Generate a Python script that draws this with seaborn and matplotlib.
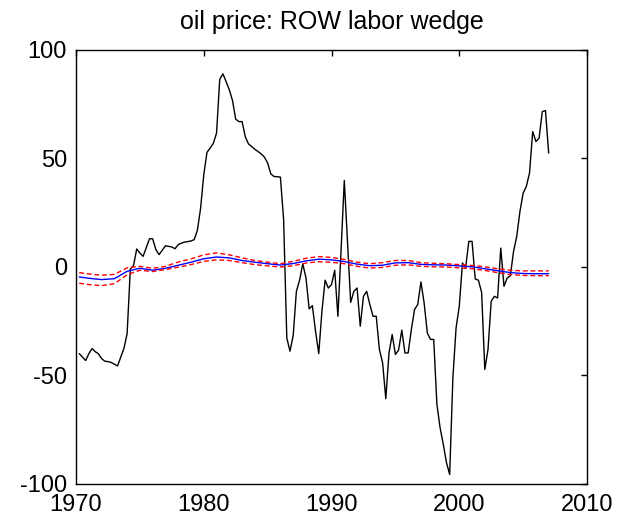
import numpy as np
import pandas as pd
import matplotlib
matplotlib.use("Agg")
import matplotlib.pyplot as plt
import seaborn as sns

# quarterly wedge series, 1970Q1 .. 2006Q4 (plotted at year + q/4)
quarters = np.arange(1, 149)
wedge = [
    -39.9, -41.5, -43.1, -40.0, -37.6, -39.0, -40.0, -42.2, -43.4, -43.6,
    -44.0, -44.8, -45.6, -41.5, -37.5, -30.7, -1.0, 0.6, 8.3, 6.4,
    4.9, 9.0, 13.0, 13.0, 8.0, 5.7, 7.7, 9.8, 9.5, 9.2,
    8.4, 10.3, 11.0, 11.5, 11.7, 12.0, 12.6, 16.9, 27.0, 42.5,
    52.8, 54.8, 57.0, 61.7, 86.5, 89.0, 85.4, 81.6, 76.7, 68.1,
    67.0, 67.0, 60.0, 56.7, 55.5, 54.2, 53.2, 52.1, 50.6, 47.9,
    42.9, 41.7, 41.6, 41.4, 21.8, -32.7, -38.8, -31.6, -11.2, -6.1,
    1.5, -5.0, -19.3, -17.8, -29.6, -39.9, -20.4, -6.1, -9.7, -8.1,
    -1.5, -22.7, 8.0, 39.9, 11.8, -16.3, -11.2, -9.7, -27.3, -13.5,
    -11.2, -17.3, -22.7, -22.7, -38.0, -44.2, -60.7, -39.6, -31.1, -40.3,
    -38.3, -29.1, -39.6, -39.6, -28.8, -19.6, -17.3, -6.9, -16.6, -30.4,
    -33.4, -33.4, -63.3, -74.1, -81.7, -90.2, -95.6, -51.1, -28.1, -18.1,
    1.8, -0.2, 11.8, 11.8, -5.5, -6.1, -11.7, -47.2, -38.0, -15.8,
    -13.5, -14.3, 8.7, -8.9, -5.1, -4.0, 7.2, 14.1, 25.6, 34.0,
    37.1, 43.3, 62.4, 57.8, 59.4, 71.6, 72.1, 52.5,
]
dates = 1970 + quarters / 4

# model median and bands, read roughly once a year
band_years = [1970.25] + list(range(1971, 2008))
median = [
    -4.6, -5.2, -5.8, -5.4, -2.0, -0.6, -1.5, -0.6, 0.8, 2.2,
    3.8, 4.6, 4.2, 3.0, 2.2, 1.5, 0.9, 1.6, 2.8, 3.6,
    3.3, 2.5, 1.3, 0.6, 0.8, 1.9, 2.0, 1.2, 1.0, 0.9,
    0.5, 0.1, -0.8, -1.7, -2.6, -3.0, -3.1, -3.1,
]
upper = [
    -2.6, -3.2, -3.8, -3.4, -0.4, 0.3, -0.6, 0.3, 2.3, 3.7,
    5.6, 6.5, 5.6, 4.2, 3.0, 2.2, 1.5, 2.6, 4.0, 4.8,
    4.4, 3.5, 2.2, 1.5, 2.0, 3.0, 3.0, 2.0, 1.7, 1.5,
    1.1, 0.7, 0.1, -0.8, -1.5, -1.8, -1.8, -1.8,
]
lower = [
    -7.5, -8.1, -8.6, -7.7, -3.6, -1.5, -2.1, -1.2, -0.1, 1.1,
    2.6, 3.3, 3.0, 2.0, 1.1, 0.5, 0.0, 0.6, 1.8, 2.4,
    2.2, 1.5, 0.3, -0.5, -0.2, 0.8, 1.0, 0.3, 0.1, 0.0,
    -0.4, -0.8, -1.6, -2.6, -3.5, -3.9, -4.0, -4.0,
]

x_ticks = [1970, 1980, 1990, 2000, 2010]
y_ticks = [-100, -50, 0, 50, 100]

sns.set_style("white")
plt.rcParams['font.family'] = ['Liberation Sans', 'DejaVu Sans']
plt.rcParams['axes.unicode_minus'] = False

fig = plt.figure(figsize=(6.32, 5.25), dpi=100)
ax = fig.add_axes([0.1203, 0.0781, 0.8085, 0.8267])

data = pd.DataFrame({'date': dates, 'wedge': wedge})
bands = pd.DataFrame({'year': band_years, 'median': median,
                      'upper': upper, 'lower': lower})

sns.lineplot(data=data, x='date', y='wedge', ax=ax, color='black',
             linewidth=1.0, estimator=None)
sns.lineplot(data=bands, x='year', y='median', ax=ax, color='#0000ff',
             linewidth=1.0, estimator=None)
for col in ['upper', 'lower']:
    sns.lineplot(data=bands, x='year', y=col, ax=ax, color='#ff0000',
                 linewidth=1.0, estimator=None, dashes=False)
    ax.lines[-1].set_dashes((3.5, 2))

ax.set_xlim(1970, 2010)
ax.set_ylim(-100, 100)
ax.set_xticks(x_ticks)
ax.set_yticks(y_ticks)
ax.set_xlabel('')
ax.set_ylabel('')
ax.set_title('oil price: ROW labor wedge', fontsize=18, pad=15, color='black')

ax.tick_params(axis='both', direction='in', length=4, width=1,
               top=True, right=True, labelsize=17, color='black',
               labelcolor='black')
ax.tick_params(axis='x', pad=7.5)
ax.tick_params(axis='y', pad=6.5)
for spine in ax.spines.values():
    spine.set_color('black')
    spine.set_linewidth(1.0)

fig.savefig('out.png', dpi=100)
